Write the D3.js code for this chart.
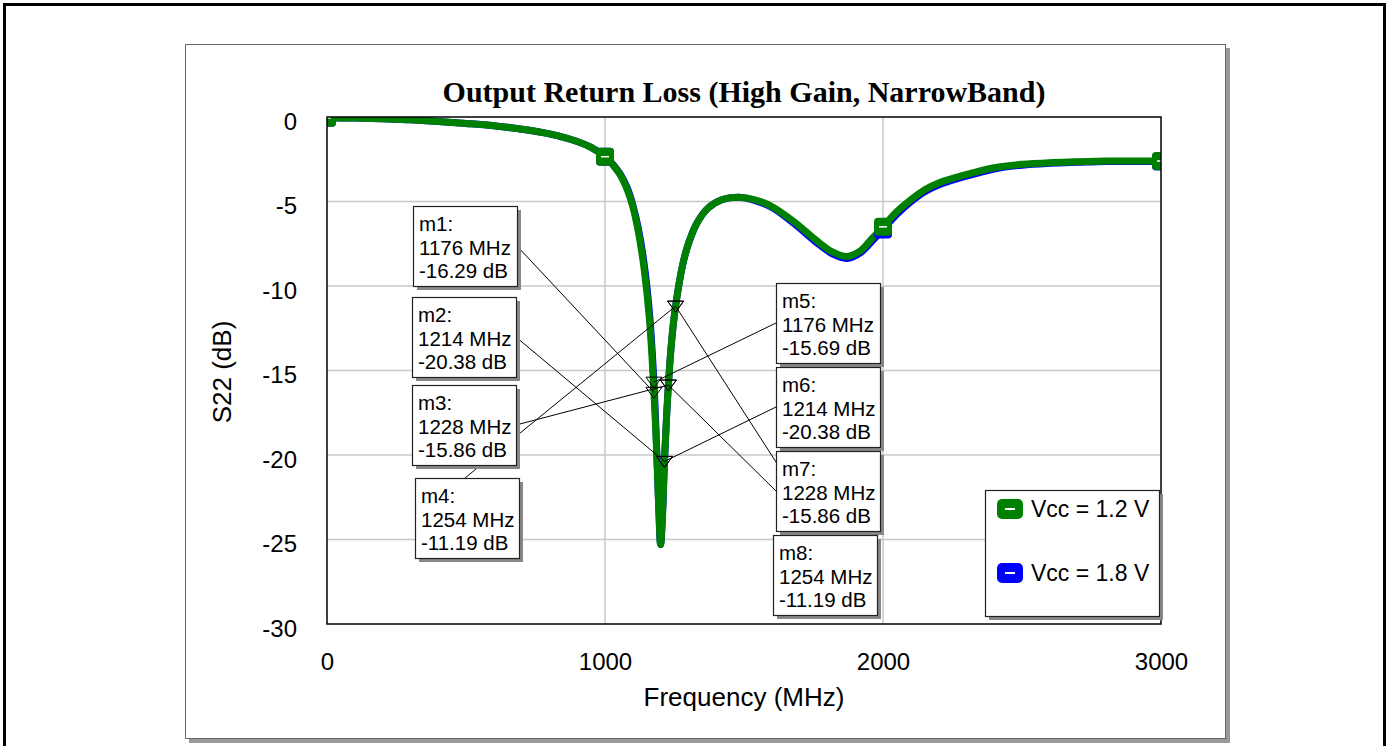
<!DOCTYPE html>
<html>
<head>
<meta charset="utf-8">
<script src="https://cdn.jsdelivr.net/npm/d3@7"></script>
<style>
  body { margin: 0; background: #fff; }
  svg text { font-family: "Liberation Sans", Arial, sans-serif; }
</style>
</head>
<body>
<svg id="chart" width="1391" height="746"></svg>
<script>
const freq = [0, 100, 200, 300, 400, 500, 600, 700, 800, 900, 950, 1000, 1050, 1080, 1100, 1120, 1140, 1160, 1176, 1185, 1193, 1200, 1207, 1214, 1228, 1240, 1254, 1280, 1300, 1330, 1370, 1420, 1480, 1540, 1600, 1680, 1760, 1820, 1870, 1920, 1960, 2000, 2050, 2100, 2150, 2200, 2300, 2400, 2500, 2600, 2700, 2800, 2900, 3000];
const s22Vcc12 = [-0.05, -0.06, -0.1, -0.17, -0.26, -0.38, -0.52, -0.72, -1.0, -1.45, -1.8, -2.35, -3.3, -4.3, -5.3, -6.8, -8.9, -12.0, -16.29, -19.5, -23.0, -25.3, -23.5, -20.38, -15.86, -13.2, -11.19, -8.7, -7.5, -6.3, -5.4, -4.9, -4.75, -4.9, -5.3, -6.2, -7.3, -8.0, -8.25, -7.9, -7.2, -6.5, -5.6, -4.9, -4.3, -3.9, -3.4, -3.0, -2.8, -2.7, -2.65, -2.6, -2.6, -2.6];
const s22Vcc18 = [-0.05, -0.06, -0.1, -0.17, -0.26, -0.38, -0.52, -0.72, -1.0, -1.45, -1.8, -2.35, -3.25, -4.2, -5.2, -6.6, -8.6, -11.6, -15.69, -19.2, -22.9, -25.3, -23.5, -20.38, -15.86, -13.2, -11.19, -8.7, -7.5, -6.3, -5.4, -4.9, -4.75, -4.95, -5.35, -6.3, -7.42, -8.12, -8.37, -8.02, -7.36, -6.66, -5.76, -5.02, -4.42, -4.02, -3.5, -3.08, -2.85, -2.74, -2.68, -2.63, -2.63, -2.63];
const seriesNames = ['Vcc = 1.2 V', 'Vcc = 1.8 V'];
const seriesColors = ['#008000', '#0000ff'];
const symbolFreq = [0, 1000, 2000, 3000];

const markerNames = ['m1', 'm2', 'm3', 'm4', 'm5', 'm6', 'm7', 'm8'];
const markerFreq = [1176, 1214, 1228, 1254, 1176, 1214, 1228, 1254];
const markerDb = [-16.29, -20.38, -15.86, -11.19, -15.69, -20.38, -15.86, -11.19];

const xTicks = [0, 1000, 2000, 3000];
const yTicks = [0, -5, -10, -15, -20, -25, -30];

const svg = d3.select('#chart');
const plot = {left: 327, top: 117, right: 1161, bottom: 624};

const x = d3.scaleLinear().domain([0, 3000]).range([plot.left, plot.right]);
const y = d3.scaleLinear().domain([-30, 0]).range([plot.bottom, plot.top]);

  //Outer frame and panel with drop shadow.
    svg.append('rect')
        .attr('x', 4.5).attr('y', 4.5).attr('width', 1380).attr('height', 760)
        .style('fill', 'none').style('stroke', '#000').style('stroke-width', 3);
    svg.append('rect')
        .attr('x', 189).attr('y', 48).attr('width', 1041).attr('height', 695)
        .style('fill', '#999');
    svg.append('rect')
        .attr('x', 185.5).attr('y', 44.5).attr('width', 1040).attr('height', 694)
        .style('fill', '#fff').style('stroke', '#666').style('stroke-width', 1);

  //Title.
    svg.append('text')
        .attr('x', 744).attr('y', 102)
        .attr('text-anchor', 'middle')
        .style('font-family', '"Liberation Serif", "Times New Roman", serif')
        .style('font-weight', 'bold')
        .style('font-size', '30px')
        .text('Output Return Loss (High Gain, NarrowBand)');

  //Grid.
    const grid = svg.append('g');
    grid.selectAll('.gx')
        .data(xTicks.slice(1, -1))
        .join('line')
        .attr('x1', d => x(d)).attr('x2', d => x(d))
        .attr('y1', plot.top).attr('y2', plot.bottom)
        .style('stroke', '#c8c8c8').style('stroke-width', 1.5);
    grid.selectAll('.gy')
        .data(yTicks.slice(1, -1))
        .join('line')
        .attr('x1', plot.left).attr('x2', plot.right)
        .attr('y1', d => y(d)).attr('y2', d => y(d))
        .style('stroke', '#c8c8c8').style('stroke-width', 1.5);

  //Axes tick labels, no tick lines.
    const xAxis = svg.append('g')
        .attr('transform', `translate(0,${plot.bottom})`)
        .call(d3.axisBottom(x).tickValues(xTicks).tickSize(0).tickPadding(29).tickFormat(d3.format('d')));
    const yAxis = svg.append('g')
        .attr('transform', `translate(${plot.left},0)`)
        .call(d3.axisLeft(y).tickValues(yTicks).tickSize(0).tickPadding(30).tickFormat(d => d3.format('d')(d).replace('−', '-')));
    [xAxis, yAxis].forEach(a => {
        a.select('.domain').remove();
        a.selectAll('text')
            .style('font-family', '"Liberation Sans", Arial, sans-serif')
            .style('font-size', '24px')
            .style('fill', '#000');
    });
    yAxis.selectAll('text').attr('dy', '0.5em');

  //Axis titles.
    svg.append('text')
        .attr('x', 744).attr('y', 706)
        .attr('text-anchor', 'middle')
        .style('font-size', '26px')
        .text('Frequency (MHz)');
    svg.append('text')
        .attr('transform', 'translate(231,372) rotate(-90)')
        .attr('text-anchor', 'middle')
        .style('font-size', '26px')
        .text('S22 (dB)');

  //Curves, clipped to the plot area.
    svg.append('clipPath').attr('id', 'clip')
        .append('rect')
        .attr('x', plot.left).attr('y', plot.top)
        .attr('width', plot.right - plot.left).attr('height', plot.bottom - plot.top);
    const curves = svg.append('g').attr('clip-path', 'url(#clip)');
    const line = d3.line()
        .x(d => x(d[0]))
        .y(d => y(d[1]))
        .curve(d3.curveCatmullRom.alpha(0.5));
    const seriesData = [s22Vcc18, s22Vcc12].map(vals => freq.map((f, i) => [f, vals[i]]));
    const seriesCol = [seriesColors[1], seriesColors[0]];
    seriesData.forEach((data, k) => {
        curves.append('path')
            .datum(data)
            .attr('d', line)
            .style('fill', 'none')
            .style('stroke', seriesCol[k])
            .style('stroke-width', 7)
            .style('stroke-linecap', 'round')
            .style('stroke-linejoin', 'round');
    });

  //Series symbols.
    function drawSymbol(g, cx, cy, color) {
        g.append('rect')
            .attr('x', cx - 9).attr('y', cy - 9).attr('width', 18).attr('height', 18)
            .attr('rx', 4)
            .style('fill', color);
        g.append('line')
            .attr('x1', cx - 4).attr('x2', cx + 4).attr('y1', cy).attr('y2', cy)
            .style('stroke', '#fff').style('stroke-width', 1.5);
    }
    seriesData.forEach((data, k) => {
        data.filter(d => symbolFreq.includes(d[0]))
            .forEach(d => drawSymbol(curves, x(d[0]), y(d[1]), seriesCol[k]));
    });

  //Plot border.
    svg.append('rect')
        .attr('x', plot.left).attr('y', plot.top)
        .attr('width', plot.right - plot.left).attr('height', plot.bottom - plot.top)
        .style('fill', 'none').style('stroke', '#000').style('stroke-width', 1.5);

  //Marker annotation boxes: position of box and where its leader line leaves it.
    const boxes = [
        {x: 413, y: 206, anchor: 'right'},
        {x: 412, y: 297, anchor: 'right'},
        {x: 412, y: 385, anchor: 'right'},
        {x: 415, y: 478, anchor: 'top'},
        {x: 776, y: 283, anchor: 'left'},
        {x: 776, y: 367, anchor: 'left'},
        {x: 776, y: 451, anchor: 'left'},
        {x: 773, y: 535, anchor: 'top'}
    ];
    const bw = 104, bh = 80;
    const markers = markerNames.map((name, i) => ({
        name, f: markerFreq[i], db: markerDb[i], box: boxes[i]
    }));

  //Leader lines drawn first so boxes cover them.
    const leaders = svg.append('g');
    markers.forEach(m => {
        const b = m.box;
        const ax = b.anchor === 'right' ? b.x + bw : b.anchor === 'left' ? b.x : b.x + bw/2 - 2;
        const ay = b.anchor === 'top' ? b.y : b.y + bh/2;
        leaders.append('line')
            .attr('x1', ax).attr('y1', ay)
            .attr('x2', x(m.f)).attr('y2', y(m.db))
            .style('stroke', '#000').style('stroke-width', 1);
    });

  //Triangle markers.
    const tri = svg.append('g');
    markers.forEach(m => {
        const cx = x(m.f), cy = y(m.db);
        tri.append('path')
            .attr('d', `M${cx - 8},${cy - 5} L${cx + 8},${cy - 5} L${cx},${cy + 6} Z`)
            .style('fill', 'none')
            .style('stroke', '#000')
            .style('stroke-width', 1);
    });

  //Boxes with text.
    markers.forEach(m => {
        const b = m.box;
        const g = svg.append('g');
        g.append('rect')
            .attr('x', b.x + 4).attr('y', b.y + 4).attr('width', bw).attr('height', bh)
            .style('fill', '#888');
        g.append('rect')
            .attr('x', b.x + 0.5).attr('y', b.y + 0.5).attr('width', bw).attr('height', bh)
            .style('fill', '#fff').style('stroke', '#222').style('stroke-width', 1.2);
        [`${m.name}:`, `${m.f} MHz`, `${d3.format('.2f')(m.db).replace('−', '-')} dB`]
            .forEach((t, i) => g.append('text')
                .attr('x', b.x + 6).attr('y', b.y + 25 + i * 23.5)
                .style('font-size', '20.5px')
                .text(t));
    });

  //Legend.
    const legend = svg.append('g');
    legend.append('rect')
        .attr('x', 989).attr('y', 494).attr('width', 174).attr('height', 126)
        .style('fill', '#888');
    legend.append('rect')
        .attr('x', 985.5).attr('y', 490.5).attr('width', 174).attr('height', 126)
        .style('fill', '#fff').style('stroke', '#222').style('stroke-width', 1.2);
    seriesNames.forEach((name, i) => {
        const cy = 509 + i * 64;
        legend.append('rect')
            .attr('x', 997).attr('y', cy - 10).attr('width', 26).attr('height', 20)
            .attr('rx', 5)
            .style('fill', seriesColors[i]);
        legend.append('rect')
            .attr('x', 1003).attr('y', cy - 7).attr('width', 14).attr('height', 14)
            .style('fill', seriesColors[i]);
        legend.append('line')
            .attr('x1', 1005).attr('x2', 1015).attr('y1', cy).attr('y2', cy)
            .style('stroke', '#fff').style('stroke-width', 2);
        legend.append('text')
            .attr('x', 1031).attr('y', cy + 8)
            .style('font-size', '23px')
            .text(name);
    });
</script>
</body>
</html>
